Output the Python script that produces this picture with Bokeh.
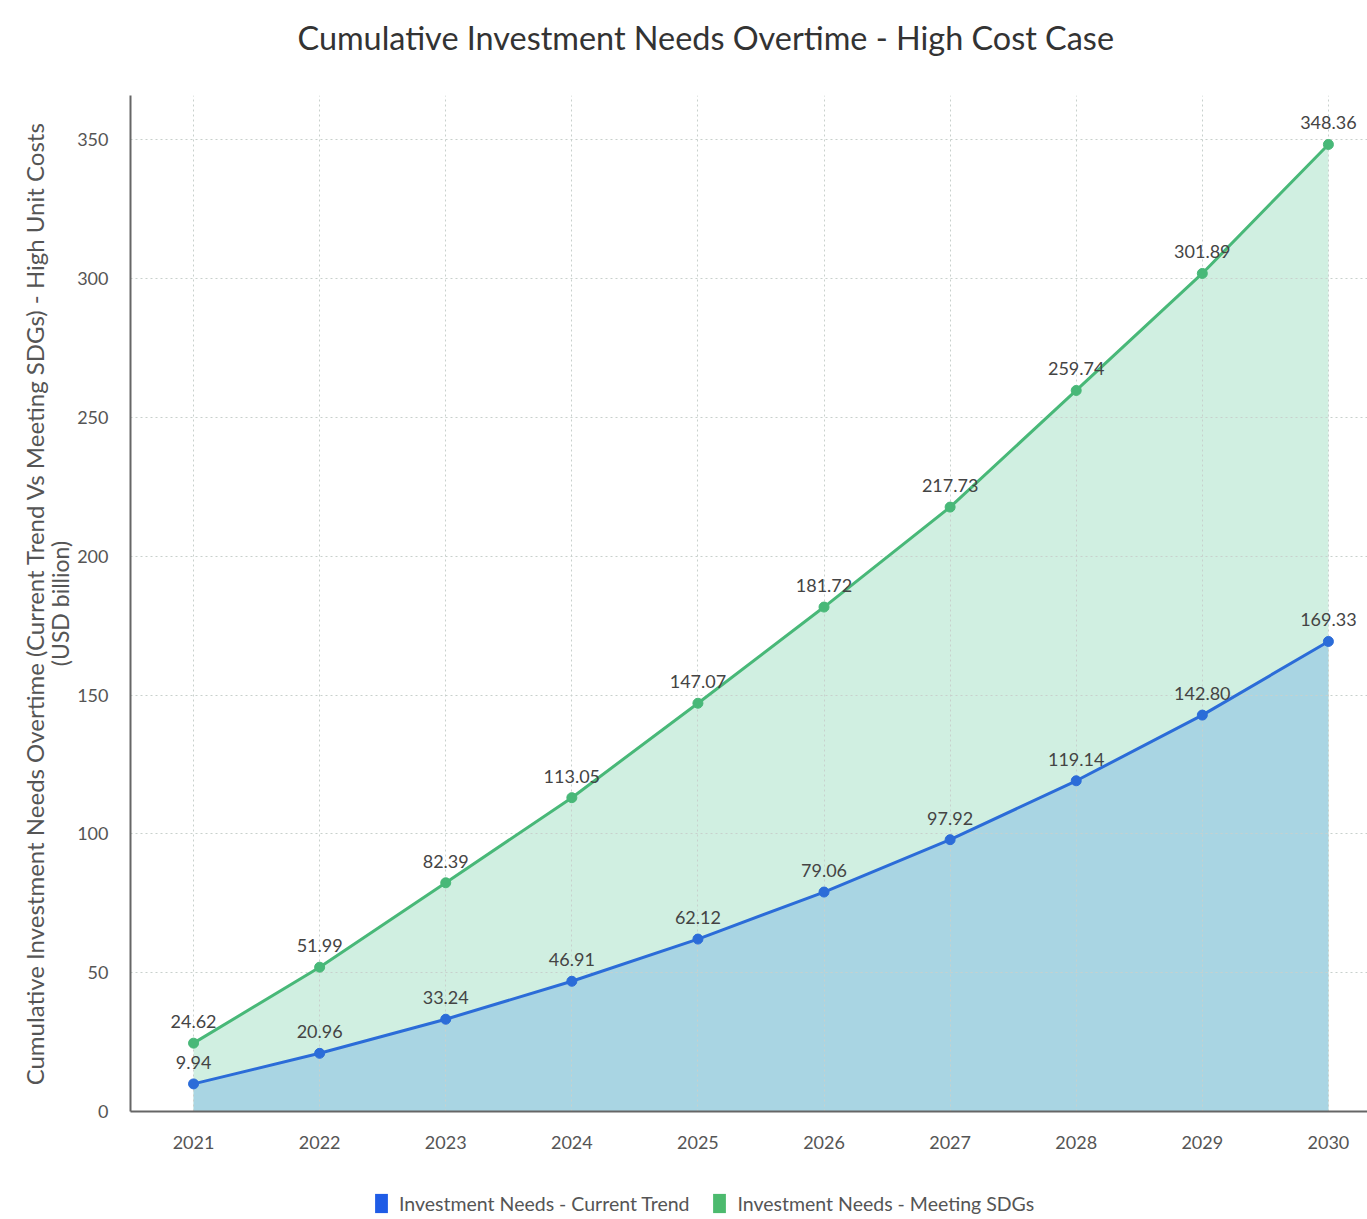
from bokeh.plotting import figure
from bokeh.layouts import column
from bokeh.models import (ColumnDataSource, Legend, LegendItem, Range1d, FixedTicker,
                          LabelSet, Label, LinearAxis)
from bokeh.core.properties import value
from bokeh.embed import file_html
from bokeh.resources import INLINE

title_text = "Cumulative Investment Needs Overtime - High Cost Case"
years = [2021, 2022, 2023, 2024, 2025, 2026, 2027, 2028, 2029, 2030]
current_trend = [9.94, 20.96, 33.24, 46.91, 62.12, 79.06, 97.92, 119.14, 142.80, 169.33]
meeting_sdgs = [24.62, 51.99, 82.39, 113.05, 147.07, 181.72, 217.73, 259.74, 301.89, 348.36]
series_names = ["Investment Needs - Current Trend", "Investment Needs - Meeting SDGs"]
y_ticks = [0, 50, 100, 150, 200, 250, 300, 350]

FONT = "Lato"
W = 1367
LEFT = 130
FRAME_W = W - LEFT

src = ColumnDataSource(dict(
    x=years,
    cur=current_trend,
    sdg=meeting_sdgs,
    cur_lbl=[f"{v:.2f}" for v in current_trend],
    sdg_lbl=[f"{v:.2f}" for v in meeting_sdgs],
))


def strip(height):
    f = figure(width=W, height=height, output_backend="svg", toolbar_location=None,
               x_range=Range1d(0, FRAME_W), y_range=Range1d(0, height),
               min_border_left=LEFT, min_border_right=0, min_border_top=0, min_border_bottom=0)
    f.axis.visible = False
    f.grid.visible = False
    f.outline_line_color = None
    return f


# title strip
tf = strip(95)
tf.add_layout(Label(x=167, y=58, text=title_text, text_font=FONT, text_font_size="32.4px",
                    text_color="#333333", text_baseline="middle", text_align="left"))

# main chart
p = figure(width=W, height=1075, output_backend="svg", toolbar_location=None,
           x_range=Range1d(2020.5, 2030.31), y_range=Range1d(0, 366),
           min_border_left=LEFT, min_border_right=0, min_border_top=0, min_border_bottom=59)
p.outline_line_color = None
p.background_fill_color = "white"

p.varea(x="x", y1=0, y2="sdg", source=src, fill_color="#d0efe1", fill_alpha=1, level="image")
p.varea(x="x", y1=0, y2="cur", source=src, fill_color="#a9d5e3", fill_alpha=1, level="image")

p.line(x="x", y="sdg", source=src, line_color="#48b878", line_width=3)
p.scatter(x="x", y="sdg", source=src, size=10, fill_color="#48b878", line_color="#48b878")
p.line(x="x", y="cur", source=src, line_color="#2b6cd8", line_width=3)
p.scatter(x="x", y="cur", source=src, size=10, fill_color="#2b6cd8", line_color="#2b6cd8")

for col in ("sdg", "cur"):
    p.add_layout(LabelSet(x="x", y=col, text=col + "_lbl", source=src, y_offset=15,
                          text_align="center", text_baseline="bottom", text_font=value(FONT),
                          text_font_size=value("18px"), text_color=value("#444444")))

p.xgrid.ticker = FixedTicker(ticks=years)
p.ygrid.ticker = FixedTicker(ticks=y_ticks)
p.xgrid.grid_line_color = "#c8d0cc"
p.xgrid.grid_line_dash = "2 3"
p.ygrid.grid_line_color = "#c8d0cc"
p.ygrid.grid_line_dash = "2 3"

p.xaxis.ticker = FixedTicker(ticks=years)
p.yaxis.ticker = FixedTicker(ticks=y_ticks)
for ax in (p.xaxis, p.yaxis):
    ax.major_tick_line_color = None
    ax.minor_tick_line_color = None
    ax.axis_line_color = "#666666"
    ax.axis_line_width = 2
    ax.major_label_text_font = FONT
    ax.major_label_text_font_size = "18px"
    ax.major_label_text_color = "#555555"
p.xaxis.major_label_standoff = 18
p.yaxis.major_label_standoff = 16
p.yaxis.axis_label = "(USD billion)"
p.yaxis.axis_label_text_font = FONT
p.yaxis.axis_label_text_font_size = "23px"
p.yaxis.axis_label_text_font_style = "normal"
p.yaxis.axis_label_text_color = "#555555"
p.yaxis.axis_label_standoff = 0

outer = LinearAxis(ticker=FixedTicker(ticks=[]), axis_line_color=None,
                   major_tick_line_color=None, minor_tick_line_color=None,
                   axis_label="Cumulative Investment Needs Overtime (Current Trend Vs Meeting SDGs) - High Unit Costs",
                   axis_label_text_font=FONT, axis_label_text_font_size="24px",
                   axis_label_text_font_style="normal", axis_label_text_color="#555555",
                   axis_label_standoff=-5)
p.add_layout(outer, "left")

# legend strip
lg = strip(49)
nan = float("nan")
r_cur = lg.quad(left=[nan], right=[nan], top=[nan], bottom=[nan], fill_color="#1f5ce6", line_color=None)
r_sdg = lg.quad(left=[nan], right=[nan], top=[nan], bottom=[nan], fill_color="#4cba6e", line_color=None)
legend = Legend(items=[LegendItem(label=series_names[0], renderers=[r_cur]),
                       LegendItem(label=series_names[1], renderers=[r_sdg])],
                orientation="horizontal", location=(243, 4), border_line_color=None,
                background_fill_alpha=0, label_text_font=FONT, label_text_font_size="19.5px",
                label_text_color="#555555", glyph_width=16, glyph_height=24,
                spacing=22, label_standoff=10, padding=4, margin=0)
lg.add_layout(legend, "center")

layout = column(tf, p, lg, spacing=0)
open("out.html", "w").write(file_html(layout, INLINE))
